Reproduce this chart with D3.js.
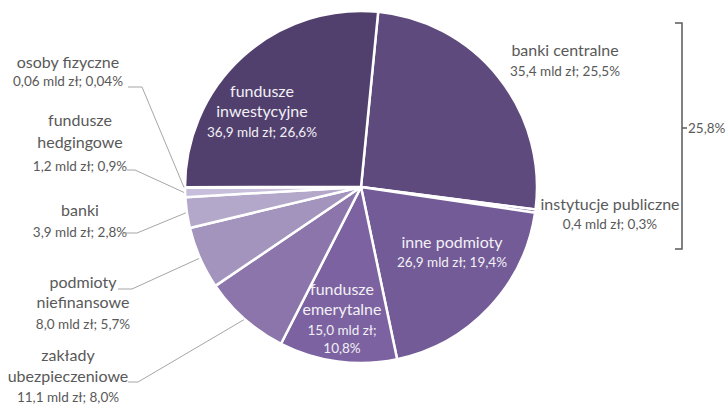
<!DOCTYPE html>
<html>
<head>
<meta charset="utf-8">
<script src="https://cdn.jsdelivr.net/npm/d3@7"></script>
<style>
  html, body { margin: 0; padding: 0; background: #fff; }
  svg { display: block; }
  text { font-family: Lato, "Open Sans", sans-serif; }
</style>
</head>
<body>
<svg id="chart" width="728" height="405"></svg>
<script>
// Holders of Polish treasury bonds (mld zł, share %)
const categories = [
  "banki centralne", "instytucje publiczne", "inne podmioty", "fundusze emerytalne",
  "zakłady ubezpieczeniowe", "podmioty niefinansowe", "banki", "fundusze hedgingowe",
  "osoby fizyczne", "fundusze inwestycyjne"
];
const valuesMld = [35.4, 0.4, 26.9, 15.0, 11.1, 8.0, 3.9, 1.2, 0.06, 36.9];
const valueLabels = [
  "35,4 mld zł; 25,5%", "0,4 mld zł; 0,3%", "26,9 mld zł; 19,4%", "15,0 mld zł; 10,8%",
  "11,1 mld zł; 8,0%", "8,0 mld zł; 5,7%", "3,9 mld zł; 2,8%", "1,2 mld zł; 0,9%",
  "0,06 mld zł; 0,04%", "36,9 mld zł; 26,6%"
];
const bracketLabel = "25,8%";
const sliceColors = [
  "#5e4a7c", "#6a5590", "#725b97", "#7c62a0", "#8b75ab",
  "#a394bd", "#b3a8ca", "#c6bedb", "#d8d2e6", "#51406d"
];

const svg = d3.select("#chart");
const cx = 361, cy = 187, R = 176;
const g = svg.append("g").attr("transform", `translate(${cx},${cy})`);

const startAngle = 5.6 * Math.PI / 180;
const pie = d3.pie().sort(null).value(d => d)
  .startAngle(startAngle).endAngle(startAngle + 2 * Math.PI);
const arcs = pie(valuesMld);
const arc = d3.arc().innerRadius(0).outerRadius(R);

g.selectAll("path.slice")
  .data(arcs)
  .join("path")
  .attr("class", "slice")
  .attr("d", arc)
  .attr("fill", (d, i) => sliceColors[i])
  .attr("stroke", "#fff")
  .attr("stroke-width", 2.5)
  .attr("stroke-linejoin", "round");

const grey = "#595959";
const nameSize = 16, valSize = 13.5;

// Label blocks: lines of text, anchor centre and first baseline
function block(x, y, lines, color, gap) {
  const t = svg.append("text").attr("text-anchor", "middle").attr("fill", color);
  let yy = y;
  lines.forEach((ln, k) => {
    t.append("tspan").attr("x", x).attr("y", yy)
      .attr("font-size", ln.v ? valSize : nameSize).text(ln.t);
    yy += (gap[k] || 20);
  });
}

const inside = "#f2f0f6";
// inside labels
block(262, 97, [{t: "fundusze"}, {t: "inwestycyjne"}, {t: valueLabels[9], v: 1}], inside, [20, 20]);
block(452, 248, [{t: "inne podmioty"}, {t: valueLabels[2], v: 1}], inside, [19]);
block(342, 295, [{t: "fundusze"}, {t: "emerytalne"}, {t: "15,0 mld zł;", v: 1}, {t: "10,8%", v: 1}], inside, [20, 20, 18]);

// outside labels
block(565, 56, [{t: categories[0]}, {t: valueLabels[0], v: 1}], grey, [20]);
block(610, 210, [{t: categories[1]}, {t: valueLabels[1], v: 1}], grey, [19]);
block(68, 68, [{t: categories[8]}, {t: valueLabels[8], v: 1}], grey, [18]);
block(80, 126, [{t: "fundusze"}, {t: "hedgingowe"}, {t: valueLabels[7], v: 1}], grey, [22, 23]);
block(80, 216, [{t: categories[6]}, {t: valueLabels[6], v: 1}], grey, [21]);
block(83, 288, [{t: "podmioty"}, {t: "niefinansowe"}, {t: valueLabels[5], v: 1}], grey, [20, 21]);
block(68, 361, [{t: "zakłady"}, {t: "ubezpieczeniowe"}, {t: valueLabels[4], v: 1}], grey, [21, 20]);

// leader lines from label to the slice's mid-angle on the rim
const leaders = [
  {i: 8, x0: 128, y: 87, x1: 142},
  {i: 7, x0: 127, y: 170, x1: 135},
  {i: 6, x0: 124, y: 233, x1: 137},
  {i: 5, x0: 118, y: 289, x1: 132},
  {i: 4, x0: 128, y: 382, x1: 138}
];
leaders.forEach(l => {
  const a = arcs[l.i];
  const m = (a.startAngle + a.endAngle) / 2;
  const px = cx + (R + 1) * Math.sin(m), py = cy - (R + 1) * Math.cos(m);
  svg.append("polyline")
    .attr("points", `${l.x0},${l.y} ${l.x1},${l.y} ${px},${py}`)
    .attr("fill", "none").attr("stroke", "#a6a6a6").attr("stroke-width", 1);
});

// bracket grouping central banks and public institutions
const bx = 682, bTop = 23, bBot = 249, bMid = 128;
svg.append("path")
  .attr("d", `M${bx - 7},${bTop} L${bx},${bTop} L${bx},${bBot} L${bx - 7},${bBot} M${bx},${bMid} L${bx + 5},${bMid}`)
  .attr("fill", "none").attr("stroke", grey).attr("stroke-width", 1.5);
svg.append("text").attr("x", bx + 6).attr("y", bMid + 4.5)
  .attr("font-size", valSize).attr("fill", grey).text(bracketLabel);
</script>
</body>
</html>
